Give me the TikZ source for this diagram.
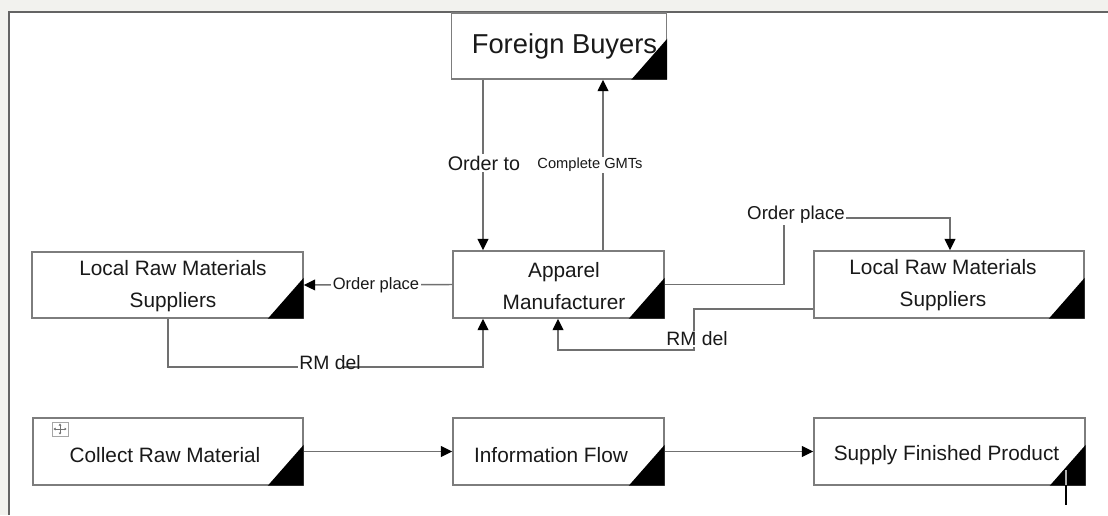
\documentclass[tikz,border=0pt]{standalone}
\usepackage{fontspec}
\setmainfont{Liberation Sans}
\usetikzlibrary{arrows.meta}
\definecolor{pagebg}{RGB}{242,242,238}
\definecolor{framegray}{RGB}{100,100,100}
\definecolor{boxgray}{RGB}{125,125,125}
\definecolor{linegray}{RGB}{112,112,112}
\definecolor{inkgray}{RGB}{25,25,25}
\begin{document}
\begin{tikzpicture}[x=0.75pt,y=-0.75pt,
  box/.style={draw=boxgray,line width=1.1pt,fill=white,rectangle,inner sep=0pt},
  txt/.style={text=inkgray,align=center,inner sep=0pt,
    font=\fontsize{15.6}{24}\selectfont},
  conn/.style={draw=linegray,line width=1.1pt},
  arr/.style={conn,-{Triangle[length=8.5pt,width=8pt,color=black,fill=black]}},
  lbl/.style={text=inkgray,inner sep=1pt,fill=white}]
\useasboundingbox (0,0) rectangle (1108,515);

% page and its frame
\fill[pagebg] (0,0) rectangle (1108,515);
\fill[white] (8,11) rectangle (1108,515);
\draw[framegray,line width=1.5pt] (8.5,515) -- (8.5,11.5) -- (1108,11.5);

% boxes
\node[box,minimum width=215*0.75pt,minimum height=66*0.75pt] (fb)    at (559,46) {};
\node[box,minimum width=271*0.75pt,minimum height=66*0.75pt] (lrmsL) at (167.5,285) {};
\node[box,minimum width=211*0.75pt,minimum height=67*0.75pt] (app)   at (558.5,284.5) {};
\node[box,minimum width=270*0.75pt,minimum height=67*0.75pt] (lrmsR) at (949,284.5) {};
\node[box,minimum width=270*0.75pt,minimum height=67*0.75pt] (crm)   at (168,451.5) {};
\node[box,minimum width=211*0.75pt,minimum height=67*0.75pt] (inf)   at (558.5,451.5) {};
\node[box,minimum width=271*0.75pt,minimum height=67*0.75pt] (sfp)   at (949.5,451.5) {};

% black corner triangles
\foreach \b in {fb,lrmsL,app,lrmsR,crm,inf,sfp}
  \fill[black] (\b.south east) -- ++(-36,0) -- ++(36,-41) -- cycle;

% box texts
\node[txt,font=\fontsize{20.5}{24}\selectfont] (fbT) at (564.5,46) {Foreign Buyers};
\node[txt] (lrmsLT) at (173,286) {Local Raw Materials\\Suppliers};
\node[txt] (appT)   at (564,286) {Apparel\\Manufacturer};
\node[txt] (lrmsRT) at (943,285) {Local Raw Materials\\Suppliers};
\node[txt] (crmT)   at (165,455) {Collect Raw Material};
\node[txt] (infT)   at (551,455) {Information Flow};
\node[txt] (sfpT)   at (946.5,455) {Supply Finished Product};

% helper coordinates for connector bends
\coordinate (cOrd) at (483,0);
\coordinate (cGmt) at (603,0);
\coordinate (cLd)  at (168,0);
\coordinate (cRmL) at (483,367);
\coordinate (cOpA) at (784,284.5);
\coordinate (cOpB) at (784,218);
\coordinate (cOpC) at (950,218);
\coordinate (cRmA) at (694,309);
\coordinate (cRmB) at (694,350);
\coordinate (cRmC) at (558,350);

% buyer <-> manufacturer
\draw[arr] (fb.south -| cOrd) -- (app.north -| cOrd);
\draw[arr] (app.north -| cGmt) -- (fb.south -| cGmt);
\node[lbl,font=\fontsize{14.8}{16}\selectfont] (lOrdTo) at (484,163) {Order to};
\node[lbl,font=\fontsize{11}{13}\selectfont] (lGmt) at (590,165) {Complete GMTs};

% manufacturer <-> left suppliers
\draw[arr] (app.west) -- (lrmsL.east);
\node[lbl,font=\fontsize{12.4}{14}\selectfont] (lOpL) at (376,285) {Order place};
\draw[arr] (lrmsL.south -| cLd) |- (cRmL) -- (app.south -| cRmL);
\node[fill=white,inner sep=0pt,font=\fontsize{14.5}{16}\selectfont] (lRmLbg) at (321,363) {\phantom{RM d}};
\node[text=inkgray,inner sep=0pt,font=\fontsize{14.5}{16}\selectfont] (lRmL) at (330,363) {RM del};

% manufacturer <-> right suppliers
\draw[arr] (app.east) -- (cOpA) -- (cOpB) -- (cOpC) -- (lrmsR.north -| cOpC);
\node[lbl,font=\fontsize{14}{16}\selectfont] (lOpR) at (796,215) {Order place};
\draw[arr] (lrmsR.west |- cRmA) -- (cRmA) -- (cRmB) -- (cRmC) -- (app.south -| cRmC);
\node[lbl,font=\fontsize{14.5}{16}\selectfont] (lRmR) at (697,339) {RM del};

% bottom flow
\draw[arr] (crm.east) -- (inf.west);
\draw[arr] (inf.east) -- (sfp.west);

% move handle and text cursor
\draw[gray!70,line width=0.6pt,fill=white] (52,422) rectangle (68,436);
\draw[gray!90!black,line width=0.6pt,{Triangle[length=1.5pt,width=2pt]}-{Triangle[length=1.5pt,width=2pt]}] (60,423.5) -- (60,434.5);
\draw[gray!90!black,line width=0.6pt,{Triangle[length=1.5pt,width=2pt]}-{Triangle[length=1.5pt,width=2pt]}] (53.5,429) -- (66.5,429);
\draw[gray!60,line width=0.8pt] (1066,470) -- (1066,485);
\draw[black,line width=0.8pt] (1066,485) -- (1066,505);
\end{tikzpicture}
\end{document}
